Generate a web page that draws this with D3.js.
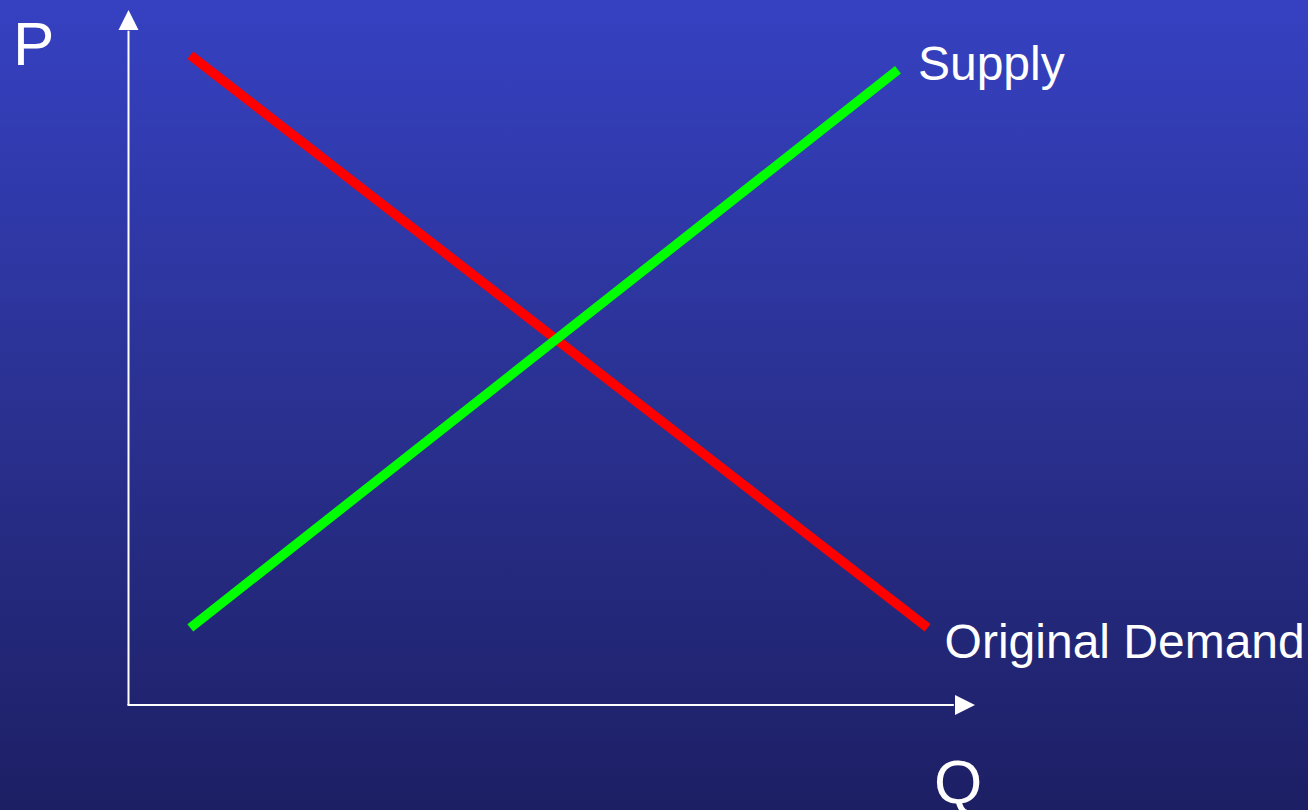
<!DOCTYPE html>
<html>
<head>
<meta charset="utf-8">
<script src="https://cdn.jsdelivr.net/npm/d3@7"></script>
<style>
  html, body { margin: 0; padding: 0; background: #1e2066; }
  svg { display: block; }
  text { font-family: "Liberation Sans", Arial, sans-serif; fill: #ffffff; }
</style>
</head>
<body>
<svg id="chart" width="1308" height="810"></svg>
<script>
// Supply and demand curves (quantity on x, price on y, arbitrary 0–100 units)
const demandQ = [7.3, 94.4];
const demandP = [93.5, 11.1];
const supplyQ = [7.3, 90.9];
const supplyP = [11.1, 91.4];

const curveNames = ["Original Demand", "Supply"];
const axisLabels = ["P", "Q"];

const W = 1308, H = 810;
const svg = d3.select("#chart");

// Background gradient
const defs = svg.append("defs");
const grad = defs.append("linearGradient")
  .attr("id", "bg").attr("x1", 0).attr("y1", 0).attr("x2", 0).attr("y2", 1);
grad.append("stop").attr("offset", "0%").attr("stop-color", "#3641c2");
grad.append("stop").attr("offset", "50%").attr("stop-color", "#2a3191");
grad.append("stop").attr("offset", "100%").attr("stop-color", "#1d1f64");
svg.append("rect").attr("width", W).attr("height", H).attr("fill", "url(#bg)");

// Scales
const x = d3.scaleLinear().domain([0, 100]).range([128.5, 975]);
const y = d3.scaleLinear().domain([0, 100]).range([705, 10]);

// Axes with arrowheads
const axisG = svg.append("g");
axisG.append("line")
  .attr("x1", x(0)).attr("y1", y(0))
  .attr("x2", x(0)).attr("y2", y(97))
  .attr("stroke", "#fff").attr("stroke-width", 2);
axisG.append("line")
  .attr("x1", x(0) - 1).attr("y1", y(0))
  .attr("x2", x(97.5)).attr("y2", y(0))
  .attr("stroke", "#fff").attr("stroke-width", 2);
// vertical arrowhead
axisG.append("path")
  .attr("d", `M${x(0)},${y(100)} L${x(0) - 10},${y(100) + 20} L${x(0) + 10},${y(100) + 20} Z`)
  .attr("fill", "#fff");
// horizontal arrowhead
axisG.append("path")
  .attr("d", `M${x(100)},${y(0)} L${x(100) - 20},${y(0) - 10} L${x(100) - 20},${y(0) + 10} Z`)
  .attr("fill", "#fff");

// Curves
const line = d3.line().x(d => x(d[0])).y(d => y(d[1]));
const demand = d3.zip(demandQ, demandP);
const supply = d3.zip(supplyQ, supplyP);

svg.append("path").datum(demand)
  .attr("d", line).attr("fill", "none")
  .attr("stroke", "#ff0000").attr("stroke-width", 9.5);
svg.append("path").datum(supply)
  .attr("d", line).attr("fill", "none")
  .attr("stroke", "#00ff00").attr("stroke-width", 9.5);

// Curve labels
const dEnd = demand[demand.length - 1];
const sEnd = supply[supply.length - 1];
svg.append("text")
  .attr("x", x(sEnd[0]) + 20).attr("y", y(sEnd[1]) + 10)
  .attr("font-size", 48).text(curveNames[1]);
svg.append("text")
  .attr("x", x(dEnd[0]) + 17).attr("y", y(dEnd[1]) + 30)
  .attr("font-size", 48).text(curveNames[0]);

// Axis labels
svg.append("text").attr("x", 13).attr("y", 65)
  .attr("font-size", 62).text(axisLabels[0]);
svg.append("text").attr("x", 934).attr("y", 803)
  .attr("font-size", 62).text(axisLabels[1]);
</script>
</body>
</html>
